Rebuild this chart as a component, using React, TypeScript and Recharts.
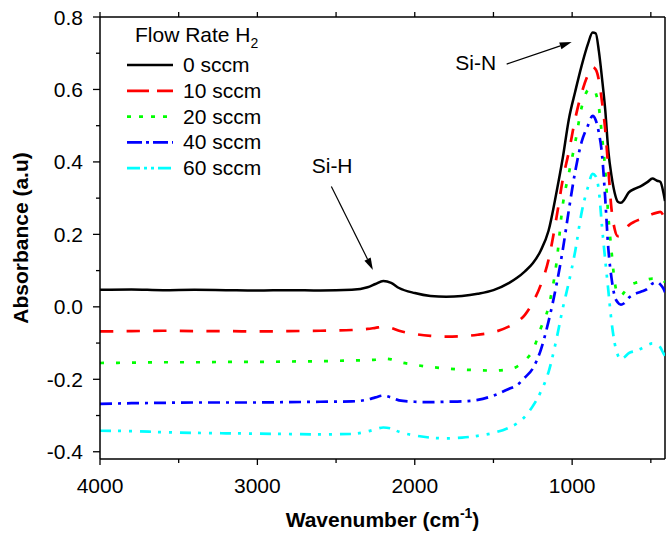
import React from 'react';
import { LineChart, Line, XAxis, YAxis, Legend, ReferenceLine, ReferenceDot } from 'recharts';

const FONT = '"Liberation Sans", Arial, sans-serif';

const WAVENUMBERS = [4000, 3800, 3600, 3400, 3200, 3000, 2800, 2600, 2400, 2300, 2250, 2200, 2150, 2100, 2000, 1900, 1800, 1700, 1600, 1500, 1400, 1350, 1300, 1250, 1200, 1150, 1100, 1060, 1020, 980, 940, 900, 870, 850, 830, 810, 790, 770, 750, 730, 710, 690, 670, 640, 600, 560, 520, 490, 460, 440, 420, 410];

const SCCM_0 = [0.047, 0.048, 0.046, 0.047, 0.046, 0.045, 0.046, 0.045, 0.047, 0.054, 0.063, 0.071, 0.066, 0.052, 0.038, 0.030, 0.028, 0.030, 0.036, 0.046, 0.066, 0.080, 0.098, 0.120, 0.155, 0.210, 0.315, 0.410, 0.520, 0.595, 0.665, 0.725, 0.757, 0.755, 0.705, 0.630, 0.545, 0.430, 0.362, 0.315, 0.290, 0.287, 0.295, 0.316, 0.326, 0.334, 0.345, 0.354, 0.348, 0.345, 0.315, 0.292];
const SCCM_10 = [-0.068, -0.067, -0.066, -0.067, -0.067, -0.068, -0.067, -0.066, -0.064, -0.061, -0.058, -0.055, -0.058, -0.066, -0.075, -0.080, -0.082, -0.081, -0.077, -0.070, -0.054, -0.042, -0.022, 0.012, 0.060, 0.130, 0.245, 0.350, 0.430, 0.520, 0.590, 0.640, 0.662, 0.655, 0.625, 0.565, 0.490, 0.380, 0.270, 0.215, 0.195, 0.198, 0.208, 0.225, 0.236, 0.243, 0.250, 0.256, 0.260, 0.262, 0.252, 0.244];
const SCCM_20 = [-0.155, -0.154, -0.153, -0.153, -0.152, -0.152, -0.151, -0.150, -0.148, -0.147, -0.146, -0.143, -0.145, -0.152, -0.160, -0.166, -0.170, -0.173, -0.175, -0.176, -0.172, -0.165, -0.148, -0.120, -0.060, 0.000, 0.120, 0.280, 0.370, 0.455, 0.550, 0.598, 0.603, 0.590, 0.550, 0.470, 0.380, 0.250, 0.155, 0.070, 0.035, 0.030, 0.040, 0.058, 0.066, 0.070, 0.076, 0.078, 0.078, 0.078, 0.072, 0.068];
const SCCM_40 = [-0.268, -0.266, -0.265, -0.264, -0.264, -0.264, -0.263, -0.262, -0.261, -0.256, -0.250, -0.245, -0.250, -0.258, -0.262, -0.263, -0.262, -0.261, -0.257, -0.245, -0.226, -0.216, -0.195, -0.170, -0.120, -0.040, 0.060, 0.156, 0.270, 0.375, 0.455, 0.500, 0.527, 0.515, 0.480, 0.420, 0.300, 0.160, 0.080, 0.030, 0.012, 0.006, 0.010, 0.025, 0.036, 0.042, 0.050, 0.064, 0.068, 0.062, 0.050, 0.040];
const SCCM_60 = [-0.342, -0.343, -0.346, -0.348, -0.349, -0.350, -0.351, -0.352, -0.351, -0.344, -0.338, -0.333, -0.336, -0.345, -0.355, -0.361, -0.363, -0.361, -0.356, -0.348, -0.333, -0.322, -0.303, -0.274, -0.235, -0.180, -0.090, -0.005, 0.070, 0.155, 0.260, 0.330, 0.367, 0.360, 0.320, 0.220, 0.130, 0.045, -0.040, -0.100, -0.133, -0.146, -0.140, -0.128, -0.122, -0.115, -0.105, -0.101, -0.106, -0.112, -0.128, -0.135];

const SERIES_KEYS = ['s0', 's10', 's20', 's40', 's60'];
const SERIES_NAMES = ['0 sccm', '10 sccm', '20 sccm', '40 sccm', '60 sccm'];
const SERIES_VALUES = [SCCM_0, SCCM_10, SCCM_20, SCCM_40, SCCM_60];
const SERIES_COLORS = ['#000000', '#FF0000', '#00FF00', '#0000FF', '#00FFFF'];
const SERIES_DASH = [undefined, '13.3 13.3', '4 12', '12 6 3 6', '11 7 3 8 3 8'];
const LEGEND_DASH = [undefined, '22 8', '4 8', '15 4 3 4', '13 4 3 4 3 4'];
const SERIES_WIDTH = [2.5, 2.7, 2.7, 2.7, 2.7];

const X_TICKS = [4000, 3500, 3000, 2500, 2000, 1500, 1000, 500];
const Y_TICKS = [-0.4, -0.3, -0.2, -0.1, 0, 0.1, 0.2, 0.3, 0.4, 0.5, 0.6, 0.7, 0.8];
const X_DOMAIN = [410, 4000];
const Y_DOMAIN = [-0.42, 0.8];

const ANNOTATION_TEXT = ['Si-N', 'Si-H'];
const ANNOTATION_TEXT_POS = [[1613, 0.673], [2525, 0.391]];
const ARROW_FROM = [[1416, 0.670], [2530, 0.332]];
const ARROW_TO = [[1003, 0.731], [2266, 0.102]];

const data = WAVENUMBERS.map((w, i) => {
  const row: any = { w };
  SERIES_KEYS.forEach((k, j) => { row[k] = SERIES_VALUES[j][i]; });
  return row;
});

const BottomTick = (props: any) => {
  const { x, y, payload } = props;
  const v = payload.value;
  const major = v % 1000 === 0;
  return (
    <g>
      <line x1={x} x2={x} y1={y} y2={y + (major ? 6 : 4)} stroke="#000" strokeWidth={1.3} />
      {major && (
        <text x={x} y={y + 34} textAnchor="middle" fontSize={21} fontFamily={FONT} fill="#000">{v}</text>
      )}
    </g>
  );
};

const TopTickShape = (p: any) => {
  const { x1, y1, y2 } = p;
  const top = Math.min(y1, y2);
  return <line x1={x1} x2={x1} y1={top} y2={top - 5} stroke="#000" strokeWidth={1.3} />;
};

const LeftTick = (props: any) => {
  const { x, y, payload } = props;
  const v = payload.value;
  const major = Math.round(v * 10) % 2 === 0;
  return (
    <g>
      <line x1={x - (major ? 7 : 4)} x2={x} y1={y} y2={y} stroke="#000" strokeWidth={1.3} />
      {major && (
        <text x={x - 17} y={y + 7.5} textAnchor="end" fontSize={21} fontFamily={FONT} fill="#000">{v.toFixed(1)}</text>
      )}
    </g>
  );
};

const Arrow = (p: any) => {
  const { x1, y1, x2, y2 } = p;
  const ang = Math.atan2(y2 - y1, x2 - x1);
  const L = 12;
  const Wd = 3.5;
  const bx = x2 - L * Math.cos(ang);
  const by = y2 - L * Math.sin(ang);
  const px = -Math.sin(ang) * Wd;
  const py = Math.cos(ang) * Wd;
  return (
    <g>
      <line x1={x1} y1={y1} x2={bx} y2={by} stroke="#000" strokeWidth={1.2} />
      <polygon points={`${x2},${y2} ${bx + px},${by + py} ${bx - px},${by - py}`} fill="#000" />
    </g>
  );
};

const LegendContent = () => (
  <svg width={190} height={175} style={{ display: 'block' }}>
    <text x={17} y={23.7} fontSize={21} fontFamily={FONT} fill="#000">
      Flow Rate H<tspan fontSize={14} dy={6}>2</tspan>
    </text>
    {SERIES_NAMES.map((n, i) => {
      const cy = 47 + i * 25.8;
      return (
        <g key={n}>
          <line x1={9} x2={55} y1={cy} y2={cy} stroke={SERIES_COLORS[i]} strokeWidth={SERIES_WIDTH[i]} strokeDasharray={LEGEND_DASH[i]} />
          <text x={65} y={cy + 7} fontSize={21} fontFamily={FONT} fill="#000">{n}</text>
        </g>
      );
    })}
  </svg>
);

const YTitle = (props: any) => {
  const vb = props.viewBox || { x: 0, y: 17, width: 100, height: 442 };
  const cx = vb.x + 28;
  const cy = vb.y + vb.height / 2;
  return (
    <text x={cx} y={cy} transform={`rotate(-90, ${cx}, ${cy})`} textAnchor="middle" fontSize={21} fontWeight="bold" fontFamily={FONT} fill="#000">
      Absorbance (a.u)
    </text>
  );
};

const XTitle = (props: any) => {
  const vb = props.viewBox || { x: 100, y: 459, width: 565, height: 75 };
  const cx = vb.x + vb.width / 2;
  return (
    <text x={cx} y={vb.y + 68} textAnchor="middle" fontSize={21} fontWeight="bold" fontFamily={FONT} fill="#000">
      Wavenumber (cm<tspan fontSize={14} dy={-9}>-1</tspan><tspan dy={9}>)</tspan>
    </text>
  );
};

export default function App() {
  return (
    <div style={{ position: 'absolute', left: 0, top: 0 }}>
      <LineChart width={667} height={534} data={data} margin={{ top: 17, right: 2, bottom: 0, left: 0 }} style={{ fontFamily: FONT }}>
        <XAxis dataKey="w" type="number" reversed domain={X_DOMAIN} allowDataOverflow ticks={X_TICKS} interval={0}
          height={75} tickSize={0} tickMargin={0} tickLine={false} tick={<BottomTick />}
          axisLine={{ stroke: '#000', strokeWidth: 1.5 }} label={<XTitle />} />
        <YAxis type="number" domain={Y_DOMAIN} allowDataOverflow ticks={Y_TICKS} interval={0}
          width={100} tickSize={0} tickMargin={0} tickLine={false} tick={<LeftTick />}
          axisLine={{ stroke: '#000', strokeWidth: 1.5 }} label={<YTitle />} />
        <ReferenceLine y={Y_DOMAIN[1]} stroke="#000" strokeWidth={1.5} ifOverflow="visible" />
        <ReferenceLine x={X_DOMAIN[0]} stroke="#000" strokeWidth={1.5} ifOverflow="visible" />
        {X_TICKS.map((t) => (
          <ReferenceLine key={'tt' + t} x={t} shape={<TopTickShape />} ifOverflow="visible" />
        ))}
        <Legend layout="vertical" align="center" verticalAlign="middle"
          wrapperStyle={{ left: 118, top: 18, width: 190, height: 175 }} content={<LegendContent />} />
        {SERIES_KEYS.map((k, i) => (
          <Line key={k} dataKey={k} name={SERIES_NAMES[i]} type="monotone" stroke={SERIES_COLORS[i]}
            strokeWidth={SERIES_WIDTH[i]} strokeDasharray={SERIES_DASH[i]} dot={false} activeDot={false}
            isAnimationActive={false} />
        ))}
        {ANNOTATION_TEXT.map((t, i) => (
          <ReferenceLine key={'a' + t} segment={[{ x: ARROW_FROM[i][0], y: ARROW_FROM[i][1] }, { x: ARROW_TO[i][0], y: ARROW_TO[i][1] }]}
            shape={<Arrow />} ifOverflow="visible" />
        ))}
        {ANNOTATION_TEXT.map((t, i) => (
          <ReferenceDot key={'t' + t} x={ANNOTATION_TEXT_POS[i][0]} y={ANNOTATION_TEXT_POS[i][1]} r={0}
            fill="none" stroke="none" ifOverflow="visible"
            label={{ value: t, position: 'center', fontSize: 21, fontFamily: FONT, fill: '#000' }} />
        ))}
      </LineChart>
    </div>
  );
}
